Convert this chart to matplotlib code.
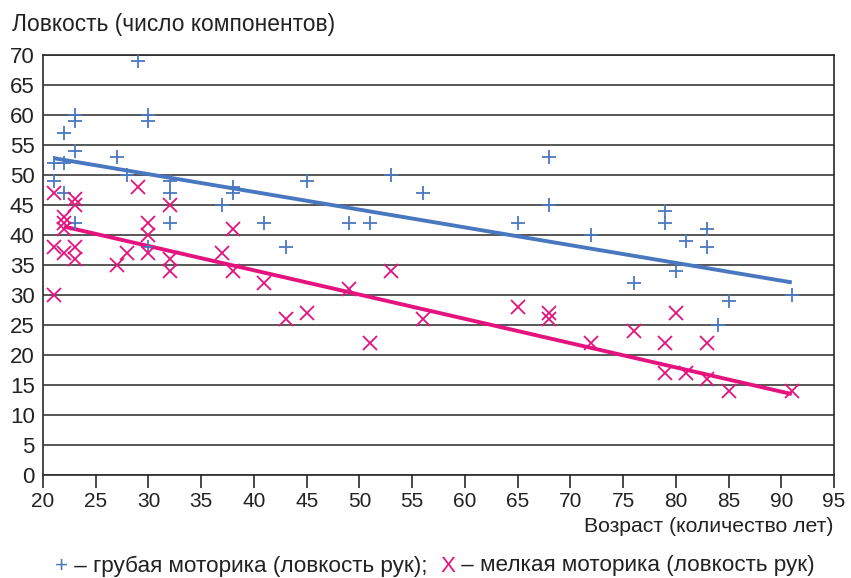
import numpy as np
import matplotlib.pyplot as plt

# rough motor skill (+)
gross_age = [21, 21, 22, 22, 22, 23, 23, 23, 23, 27, 28, 29, 30, 30, 30,
             32, 32, 32, 37, 38, 38, 41, 43, 45, 49, 51, 53, 56, 65, 68, 68,
             72, 76, 79, 79, 80, 81, 83, 83, 84, 85, 91]
gross_val = [52, 49, 57, 52, 47, 60, 59, 54, 42, 53, 50, 69, 60, 59, 38,
             49, 47, 42, 45, 48, 47, 42, 38, 49, 42, 42, 50, 47, 42, 53, 45,
             40, 32, 44, 42, 34, 39, 41, 38, 25, 29, 30]

# fine motor skill (x)
fine_age = [21, 21, 21, 22, 22, 22, 22, 23, 23, 23, 23, 27, 28, 29, 30, 30, 30,
            32, 32, 32, 37, 38, 38, 41, 43, 45, 49, 51, 53, 56, 65, 68, 68,
            72, 76, 79, 79, 80, 81, 83, 83, 85, 91]
fine_val = [47, 38, 30, 43, 42, 41, 37, 46, 45, 38, 36, 35, 37, 48, 42, 40, 37,
            45, 36, 34, 37, 41, 34, 32, 26, 27, 31, 22, 34, 26, 28, 27, 26,
            22, 24, 22, 17, 27, 17, 22, 16, 14, 14]

# trend lines (end points)
gross_trend_age = [21, 91]
gross_trend_val = [52.8, 32.1]
fine_trend_age = [22, 91]
fine_trend_val = [41.4, 13.5]

blue = "#4a78c0"
pink = "#e5137e"
font = ["Liberation Sans", "DejaVu Sans"]
dark = "#222222"

fig = plt.figure(figsize=(8.51, 5.78), dpi=100)
ax = fig.add_axes([0.0505, 0.178, 0.9295, 0.727])

ax.set_xlim(20, 95)
ax.set_ylim(0, 70)
ax.set_xticks(np.arange(20, 96, 5))
ax.set_yticks(np.arange(0, 71, 5))
ax.grid(axis="y", color="#2a2a2a", linewidth=1.1)
ax.set_axisbelow(True)
for s in ax.spines.values():
    s.set_linewidth(1.2)
    s.set_color("#2a2a2a")

ax.plot(gross_trend_age, gross_trend_val, color=blue, linewidth=2.8, solid_capstyle="butt", zorder=3)
ax.plot(fine_trend_age, fine_trend_val, color=pink, linewidth=2.8, solid_capstyle="butt", zorder=3)
ax.plot(gross_age, gross_val, linestyle="none", marker="+", markersize=10,
        markeredgewidth=1.3, color=blue, zorder=4)
ax.plot(fine_age, fine_val, linestyle="none", marker="x", markersize=10,
        markeredgewidth=1.3, color=pink, zorder=4)

ax.tick_params(axis="x", direction="out", length=9, width=1.2, color="#2a2a2a", pad=3)
ax.tick_params(axis="y", length=0, pad=6)
for lb in ax.get_xticklabels():
    lb.set_fontfamily(font)
    lb.set_fontsize(15)
    lb.set_color(dark)
for lb in ax.get_yticklabels():
    lb.set_fontfamily(font)
    lb.set_fontsize(16)
    lb.set_color(dark)

fig.text(12 / 851, 1 - 25 / 578, "Ловкость (число компонентов)", family=font,
         fontsize=16.4, color=dark, va="center", ha="left")
fig.text(834 / 851, 1 - 527 / 578, "Возраст (количество лет)", family=font,
         fontsize=15.3, color=dark, va="center", ha="right")

# legend line made of coloured pieces
lsize = 16.2
t = fig.text(55 / 851, 1 - 566 / 578, "+", family=font, fontsize=lsize, color=blue, va="center")
t = ax.annotate(" – грубая моторика (ловкость рук);  ", xy=(1, 0.5), xycoords=t,
                va="center", family=font, fontsize=lsize, color=dark)
t = ax.annotate("X", xy=(1, 0.5), xycoords=t, va="center", family=font,
                fontsize=lsize, color=pink)
ax.annotate(" – мелкая моторика (ловкость рук)", xy=(1, 0.5), xycoords=t,
            va="center", family=font, fontsize=lsize, color=dark)

fig.savefig("out.png", dpi=100)
